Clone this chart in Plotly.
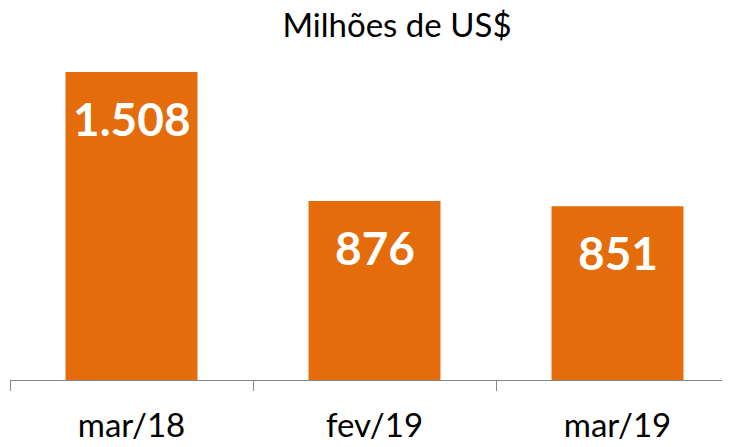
import plotly.graph_objects as go

categories = ["mar/18", "fev/19", "mar/19"]
values = [1508, 876, 851]
labels = ["1.508", "876", "851"]
title_text = "Milhões de US$"

W, H = 730, 447
fig = go.Figure()
fig.add_trace(go.Bar(x=categories, y=values, marker_color="#E46C0A",
                     marker_line_width=0, hoverinfo="skip"))
for c, v, t in zip(categories, values, labels):
    fig.add_annotation(x=c, y=v, text="<b>%s</b>" % t, showarrow=False,
                       yshift=-46, yanchor="middle",
                       font=dict(family="Lato", size=46, color="white"))

fig.update_layout(
    width=W, height=H,
    margin=dict(l=10, r=8, t=60, b=67, autoexpand=False),
    paper_bgcolor="white", plot_bgcolor="white",
    showlegend=False,
    bargap=0.457,
    title=dict(text=title_text, x=397 / W, xanchor="center",
               y=1 - 25 / H, yanchor="middle",
               font=dict(family="Lato", size=33, color="#000000")),
    xaxis=dict(range=[-0.5, -0.5 + 712 / 243], tickson="boundaries",
               ticks="outside", ticklen=10, tickcolor="#868686",
               showline=True, linecolor="#868686", linewidth=1,
               showgrid=False, zeroline=False, ticklabelstandoff=16,
               tickfont=dict(family="Lato", size=33, color="#000000")),
    yaxis=dict(range=[0, 320 / 0.2042], visible=False, showgrid=False,
               zeroline=False),
)
fig.write_html("out.html", config={"displayModeBar": False},
               post_script="document.body.style.margin='0';document.body.style.padding='0';")
